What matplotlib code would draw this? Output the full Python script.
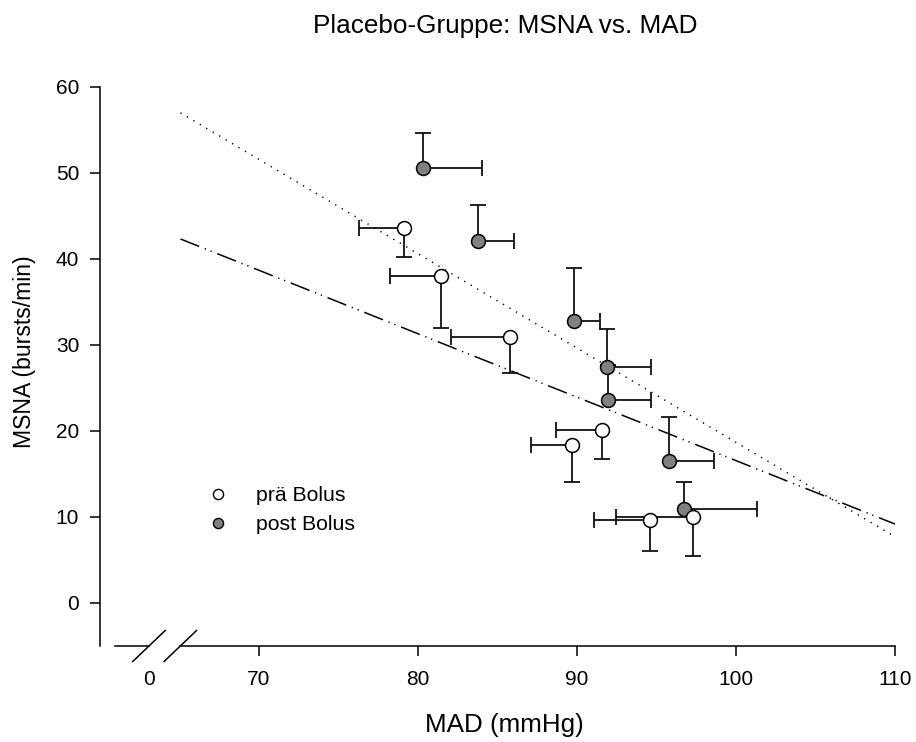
import matplotlib
matplotlib.use("Agg")
import matplotlib.pyplot as plt
import numpy as np
from matplotlib.lines import Line2D

plt.rcParams['font.family'] = ['Liberation Sans', 'DejaVu Sans']
plt.rcParams['lines.scale_dashes'] = False

# ---- data ----
pre_mad = [79.1, 81.45, 85.8, 91.6, 89.7, 94.6, 97.3]
pre_msna = [43.6, 38.0, 30.9, 20.1, 18.4, 9.6, 10.0]
pre_mad_err = [2.8, 3.2, 3.75, 2.95, 2.6, 3.55, 4.85]   # drawn to the left
pre_msna_err = [3.4, 6.0, 4.1, 3.4, 4.35, 3.5, 4.5]     # drawn downward

post_mad = [80.3, 83.75, 89.8, 91.9, 91.95, 95.8, 96.7]
post_msna = [50.6, 42.1, 32.8, 27.5, 23.6, 16.55, 10.9]
post_mad_err = [3.7, 2.3, 1.65, 2.75, 2.7, 2.8, 4.6]     # drawn to the right
post_msna_err = [4.05, 4.15, 6.15, 4.4, 4.1, 5.1, 3.2]  # drawn upward

fit_x = [65.06, 110.0]
pre_fit_y = [42.33, 9.18]
post_fit_y = [57.0, 7.71]

x_ticks = [70, 80, 90, 100, 110]
y_ticks = [0, 10, 20, 30, 40, 50, 60]

W, H = 916, 742
fig = plt.figure(figsize=(W / 100, H / 100), dpi=100)
ax = fig.add_axes([100 / W, 1 - 646 / H, 795 / W, 559 / H])
ax.set_xlim(60, 110)
ax.set_ylim(-5, 60)

# regression lines
ax.plot(fit_x, pre_fit_y, color='black', lw=1.1,
        linestyle=(0, (14.5, 4.3, 0.9, 3.6, 0.9, 4.3)), zorder=1)
ax.plot(fit_x, post_fit_y, color='black', lw=1.1,
        linestyle=(0, (0.9, 4.5)), zorder=1)

ecol = '#111111'
elw = 1.3
cap = 12

def one_sided(xs, ys, xe, ye, xsign, ysign, z):
    xs = np.asarray(xs); ys = np.asarray(ys)
    xe = np.asarray(xe); ye = np.asarray(ye)
    xend = xs + xsign * xe
    yend = ys + ysign * ye
    ax.hlines(ys, xs, xend, color=ecol, lw=elw, zorder=z)
    ax.vlines(xs, ys, yend, color=ecol, lw=elw, zorder=z)
    ax.plot(xend, ys, ls='none', marker='|', ms=cap, mew=elw, color=ecol, zorder=z)
    ax.plot(xs, yend, ls='none', marker='_', ms=cap, mew=elw, color=ecol, zorder=z)

one_sided(post_mad, post_msna, post_mad_err, post_msna_err, +1, +1, 2)
one_sided(pre_mad, pre_msna, pre_mad_err, pre_msna_err, -1, -1, 3)

ax.plot(post_mad, post_msna, ls='none', marker='o', ms=10, mfc='#808080',
        mec='black', mew=1.1, zorder=4)
ax.plot(pre_mad, pre_msna, ls='none', marker='o', ms=10, mfc='white',
        mec='black', mew=1.1, zorder=5)

# axes styling
for s in ['top', 'right']:
    ax.spines[s].set_visible(False)
ax.spines['left'].set_bounds(-5, 60)
ax.spines['left'].set_linewidth(1.1)
ax.spines['bottom'].set_bounds(65.05, 110)
ax.spines['bottom'].set_linewidth(1.1)

brk1, brk2 = 63.08, 65.05
ax.add_line(Line2D([60.94, brk1], [-5, -5], color='black', lw=1.1, clip_on=False))
for b in (brk1, brk2):
    ax.add_line(Line2D([b - 1.02, b + 1.02], [-5 - 1.8, -5 + 1.8], color='black',
                       lw=1.1, clip_on=False))

ax.set_xticks([brk1] + x_ticks)
ax.set_xticklabels(['0'] + [str(t) for t in x_ticks])
ax.xaxis.get_major_ticks()[0].tick1line.set_visible(False)
ax.set_yticks(y_ticks)
ax.tick_params(axis='both', direction='out', length=7.5, width=1.1, labelsize=15)
ax.tick_params(axis='x', pad=10)
ax.tick_params(axis='y', pad=7.5)

ax.set_xlabel('MAD (mmHg)', fontsize=18.7)
ax.xaxis.set_label_coords((504.5 - 100) / 795, (646 - 732) / 559)
ax.xaxis.label.set_va('baseline')
ax.set_ylabel('MSNA (bursts/min)', fontsize=16.6)
ax.yaxis.set_label_coords((25 - 100) / 795, (646 - 352) / 559)
ax.yaxis.label.set_va('center')

fig.text(505 / W, 1 - 33 / H, 'Placebo-Gruppe: MSNA vs. MAD', ha='center',
         va='baseline', fontsize=18.8)

handles = [Line2D([], [], ls='none', marker='o', ms=7.3, mfc='white', mec='black', mew=1.0),
           Line2D([], [], ls='none', marker='o', ms=7.3, mfc='#808080', mec='black', mew=1.0)]
ax.legend(handles, ['prä Bolus', 'post Bolus'], loc='upper left',
          bbox_to_anchor=(207.4 / W, 1 - 486 / H), bbox_transform=fig.transFigure,
          frameon=False, fontsize=15.3, handlelength=1.0, handletextpad=1.28,
          borderpad=0, borderaxespad=0, labelspacing=0.49)

fig.savefig('out.png', dpi=100)
